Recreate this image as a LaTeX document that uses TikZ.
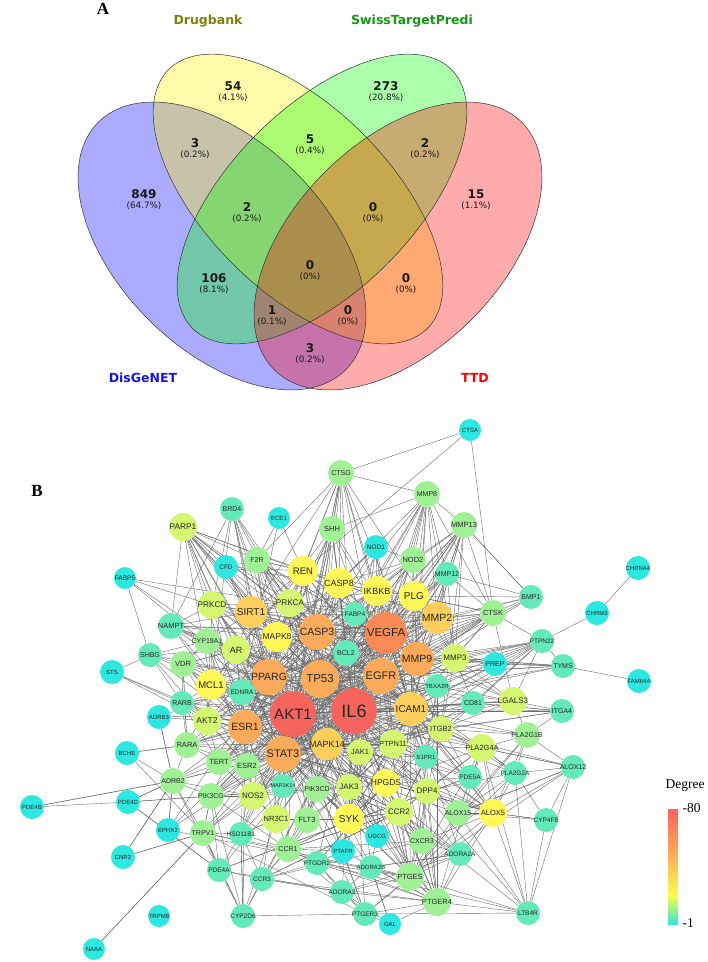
\documentclass[tikz,border=0pt]{standalone}
\usepackage{fontspec}
\setmainfont{Liberation Serif}
\setsansfont{Liberation Sans}
\newfontfamily\vennfont{DejaVu Sans}
\usetikzlibrary{backgrounds}
\newcommand{\fsz}[1]{\fontsize{#1}{#1}\selectfont}
\definecolor{dc1}{RGB}{44,232,224}
\definecolor{dc2}{RGB}{100,234,184}
\definecolor{dc3}{RGB}{160,241,150}
\definecolor{dc4}{RGB}{212,246,112}
\definecolor{dc5}{RGB}{255,246,88}
\definecolor{dc6}{RGB}{253,206,92}
\definecolor{dc7}{RGB}{251,170,90}
\definecolor{dc8}{RGB}{249,138,86}
\definecolor{dc9}{RGB}{246,100,94}
\definecolor{barlg}{RGB}{150,240,140}
\definecolor{baryel}{RGB}{250,250,80}
\definecolor{barora}{RGB}{250,170,90}
\definecolor{barred}{RGB}{248,100,95}
\tikzstyle{gene} = [circle, inner sep=0pt, draw=none]
\tikzstyle{link} = [draw=black!58, line width=0.4pt]
\tikzstyle{vnum} = [font=\vennfont\bfseries\fsz{12}, text=black!90]
\tikzstyle{vpct} = [font=\vennfont\fsz{8.8}, text=black!90]
\tikzstyle{vtitle} = [font=\vennfont\bfseries\fsz{12.5}]
\tikzstyle{panel} = [font=\bfseries\fsz{17}]

\begin{document}
\begin{tikzpicture}[x=1pt, y=-1pt]
  \useasboundingbox (0,0) rectangle (708,962);

  % panel A
  \node[panel] (labA) at (103,9) {A};
  \foreach \cx/\cy/\ra/\rb/\rot/\col in {222/246/175/104/45/blue, 298/199/183/92/45/yellow, 322/199/183/92/-45/green, 398/246/175/104/-45/red}
    \fill[fill=\col, fill opacity=0.33] plot[domain=0:358, samples=180, variable=\ang] ({\cx+\ra*cos(\ang)*cos(\rot)-\rb*sin(\ang)*sin(\rot)}, {\cy+\ra*cos(\ang)*sin(\rot)+\rb*sin(\ang)*cos(\rot)}) -- cycle;
  \foreach \cx/\cy/\ra/\rb/\rot in {222/246/175/104/45, 298/199/183/92/45, 322/199/183/92/-45, 398/246/175/104/-45}
    \draw[black!80, line width=0.5pt] plot[domain=0:358, samples=180, variable=\ang] ({\cx+\ra*cos(\ang)*cos(\rot)-\rb*sin(\ang)*sin(\rot)}, {\cy+\ra*cos(\ang)*sin(\rot)+\rb*sin(\ang)*cos(\rot)}) -- cycle;

  \node[vtitle, text={rgb,255:red,128;green,128;blue,10}] (tdrug) at (208,21) {Drugbank};
  \node[vtitle, text={rgb,255:red,20;green,150;blue,20}] (tswiss) at (412,21) {SwissTargetPredi};
  \node[vtitle, text={rgb,255:red,20;green,20;blue,235}] (tdis) at (143,378) {DisGeNET};
  \node[vtitle, text=red] (tttd) at (475,378) {TTD};

  \foreach \x/\y/\num/\pct [count=\i] in {233/86/54/4.1, 386/86/273/20.8, 195/143/3/0.2, 310/139/5/0.4, 425/143/2/0.2, 144/194/849/64.7, 476/194/15/1.1, 247/207/2/0.2, 373/207/0/0, 310/265/0/0, 214/278/106/8.1, 406/278/0/0, 272/310/1/0.1, 348/310/0/0, 310/348/3/0.2} {
    \node[vnum] (vnum\i) at (\x,\y) {\num};
    \node[vpct] (vpct\i) at (\x,\y+12) {(\pct\%)};
  }

  % panel B
  \node[panel] (labB) at (37,491) {B};
  \foreach \n/\x/\y/\rad/\fz/\dg in {
    CTSA/470/430/11/6/1, CTSG/341/473/13/7/3, MMP8/427/494/13/7/3, MMP13/464/525/13/7.5/3,
    BRD4/232/509/12/7/2, ECE1/279/518/11/6/1, PARP1/183/527/14/8.3/4, SHH/332/529/13/7.5/3,
    NOD1/376/547/12/6.5/1, NOD2/413/560/13/7.5/3, F2R/257/560/13/7/3, CFD/226/567/12/6.5/1,
    REN/303/571/15/9.5/5, MMP12/447/574/12/7/2, CHRNA4/638/568/12/6/1, FABP5/125/578/11/6.5/1,
    CASP8/339/583/15/9/5, IKBKB/377/591/15/9/5, PLG/414/596/15/10/5, BMP1/531/597/12/7/2,
    PRKCD/212/605/14/8.2/4, PRKCA/290/603/14/8.2/4, SIRT1/251/612/16/10/6, FABP4/355/614/12/6.5/2,
    CTSK/493/613/13/7.5/3, CHRM3/597/613/12/6/1, MMP2/437/618/16/10.5/6, NAMPT/171/626/13/7.5/2,
    CASP3/317/632/18/10.5/7, VEGFA/386/633/21/11.5/8, MAPK8/277/637/15/8.5/5, CYP19A1/207/641/13/7/3,
    PTPN22/542/641/12/6.5/2, AR/236/650/14/9/4, BCL2/346/653/13/7/2, SHBG/150/655/12/7/2,
    MMP9/417/659/17/10.5/7, MMP3/455/658/14/8/4, VDR/183/664/13/7.5/3, PREP/495/664/12/7/1,
    TYMS/563/666/12/7/2, STS/112/672/12/6/1, PPARG/269/677/18/10.5/7, TP53/320/679/19/11.5/7,
    EGFR/381/676/18/11/7, FAM64A/639/681/12/6/1, MCL1/211/685/15/9.5/5, TBXA2R/437/686/12/6/2,
    EDNRA/242/692/13/6.5/2, LGALS3/513/701/14/8/4, CD81/473/703/12/7/2, RARB/182/703/12/7/2,
    ICAM1/411/709/17/10/6, IL6/354/711/23/18/9, AKT1/293/714/23/15/9, ITGA4/562/711/12/7/2,
    ADRB3/159/717/12/6/1, AKT2/207/721/14/8.5/4, ESR1/245/727/17/10.5/7, ITGB2/441/729/13/7.5/4,
    PLA2G1B/527/735/13/7/3, MAPK14/327/744/16/9/6, PTPN11/393/744/14/7.5/4, RARA/187/745/13/7.5/3,
    PLA2G4A/482/748/14/7.5/4, JAK1/360/752/13/7.5/4, BCHE/127/753/12/6/1, STAT3/283/754/18/11/7,
    S1PR1/426/757/12/6/2, TERT/219/762/13/7.5/3, ESR2/247/766/13/7.5/3, ALOX12/573/767/12/7/2,
    PLA2G2A/515/773/12/6.5/2, PDE5A/470/777/12/6.5/2, ADRB2/173/781/13/7/3, HPGDS/386/783/14/8.5/5,
    MAP3K14/283/786/12/5.5/2, JAK3/349/787/13/8/4, PIK3CD/317/789/13/7/3, DPP4/427/791/13/8/4,
    NOS2/253/796/14/8/4, PIK3CG/211/796/13/7/3, PDE4D/128/802/12/6/1, PDE4B/32/807/12/6/1,
    CCR2/399/812/14/8/4, ALOX15/458/813/13/7/3, ALOX5/493/813/14/7.5/5, NR3C1/276/819/14/7.5/4,
    SYK/349/819/15/10/5, FLT3/307/820/13/7.5/3, CYP4F8/546/820/12/6.5/2, EPHX2/168/830/12/6/1,
    TRPV1/203/833/13/7/3, HSD11B1/241/834/12/6.5/2, UGCG/377/836/12/6/1, CXCR3/422/841/13/7/3,
    CCR1/288/849/13/7/3, PTAFR/343/851/12/6/1, ADORA2A/460/854/12/6.5/2, CNR2/123/857/12/6/1,
    PTGDR2/317/863/12/6.5/2, ADORA2B/371/867/12/6/2, PDE4A/219/870/12/6.5/2, PTGES/410/877/14/7.5/3,
    CCR3/262/879/12/6.5/2, ADORA3/342/892/12/6.5/2, PTGER4/437/902/14/7.5/3, LTB4R/528/913/12/6.5/2,
    PTGER3/365/914/12/6.5/2, CYP2D6/243/916/12/6.5/2, TRPM8/159/916/11/6/1, GAL/390/924/11/6/1,
    NAAA/94/949/11/6/1}
    \node[gene, fill=dc\dg, minimum size=2*\rad, label={[font=\sffamily\fsz{\fz}, text=black!85]center:\n}] (\n) at (\x,\y) {};

  \begin{pgfonlayer}{background}
    \def\hubgenes{IL6,AKT1,TP53,VEGFA,EGFR,CASP3,PPARG,STAT3,ESR1,MMP9,ICAM1,MAPK14,SIRT1,MMP2,MAPK8,CASP8}
    \foreach \a [count=\i] in \hubgenes {
      \foreach \b [count=\j] in \hubgenes {
        \ifnum\j>\i \draw[link] (\a) -- (\b); \fi
      }
    }
    \foreach \s/\tl in {
      CTSA/{CTSG,REN,CTSK},
      CTSG/{MMP8,IL6,AKT1,TP53,CASP3,VEGFA,EGFR,MMP9,MMP2,ICAM1,STAT3,CASP8,REN,SHH,PRKCA,F2R,SIRT1},
      MMP8/{MMP13,MMP12,PLG,MMP2,MMP9,VEGFA,IL6,TP53,CASP3,EGFR,CTSK,AKT1,ICAM1,MMP3,NOD2,IKBKB,SHH,CASP8},
      MMP13/{MMP12,MMP2,MMP9,VEGFA,IL6,PLG,MMP3,CTSK,BMP1,EGFR,AKT1,TP53,ICAM1,NOD2,STAT3,CASP3,ITGB2},
      BRD4/{SIRT1,MAPK8,AKT1,IL6,PPARG,CASP3,STAT3,TP53,MCL1,PRKCD,NAMPT},
      ECE1/{EDNRA,REN,F2R},
      PARP1/{SIRT1,PPARG,AKT1,TP53,CASP3,IL6,CASP8,STAT3,PRKCD,NAMPT,MAPK8,ESR1,PRKCA,F2R,MCL1,AR,CFD,REN,BCL2},
      SHH/{IL6,AKT1,TP53,CASP3,VEGFA,EGFR,STAT3,CASP8,MAPK8,PPARG,ESR1,MMP9,MCL1,BCL2},
      NOD1/{NOD2,IL6,IKBKB,CASP8,MAPK14,CASP3,MAPK8,ICAM1,VEGFA},
      NOD2/{IL6,IKBKB,CASP8,MAPK14,STAT3,TP53,AKT1,MMP9,CASP3,ICAM1,MAPK8},
      F2R/{IL6,AKT1,PLG,VEGFA,EGFR,ICAM1,MAPK14,PRKCA,CASP3,STAT3,TP53,PPARG,MMP9,REN,CFD},
      CFD/{IL6,ICAM1,AKT1,PPARG,REN,PLG,SIRT1},
      REN/{IL6,AKT1,TP53,CASP3,VEGFA,EGFR,PPARG,STAT3,ESR1,ICAM1,SIRT1,MAPK14,MMP9,EDNRA,MMP2,AR},
      MMP12/{MMP2,MMP9,MMP3,IL6,VEGFA,PLG,CTSK,TP53,EGFR,AKT1,ICAM1,BMP1,STAT3},
      CHRNA4/{CHRM3},
      FABP5/{PRKCD,SHBG,PPARG,AKT1,FABP4},
      IKBKB/{IL6,AKT1,TP53,CASP3,VEGFA,EGFR,STAT3,ESR1,ICAM1,MAPK14,MAPK8,MMP9,PLG,CASP8,BCL2,SIRT1,JAK1,PTPN11,SYK},
      PLG/{IL6,AKT1,TP53,CASP3,VEGFA,EGFR,MMP9,MMP2,MMP3,ICAM1,STAT3,BMP1,CTSK,ITGB2,MAPK14,PPARG},
      BMP1/{CTSK,MMP2,VEGFA,MMP9,MMP13,IL6},
      PRKCD/{IL6,AKT1,TP53,CASP3,PPARG,STAT3,ESR1,MAPK8,SIRT1,PRKCA,MAPK14,EGFR,VEGFA,MCL1,NAMPT,AKT2},
      PRKCA/{IL6,AKT1,TP53,CASP3,VEGFA,EGFR,STAT3,ESR1,MAPK14,MAPK8,ICAM1,MMP9,MMP2,SIRT1,PPARG,BCL2},
      FABP4/{IL6,PPARG,AKT1,VEGFA,EGFR,TP53,ICAM1,STAT3,CASP3},
      CTSK/{MMP2,MMP9,MMP3,VEGFA,IL6,PLG,TP53,EGFR,PTPN22,ICAM1,STAT3,AKT1,CASP3,LGALS3,ESR1,PPARG},
      CHRM3/{PTPN22},
      NAMPT/{SIRT1,IL6,AKT1,PPARG,TP53,STAT3,CASP3,MAPK8,ESR1,VEGFA,ICAM1,CYP19A1},
      CYP19A1/{ESR1,AR,PPARG,AKT1,IL6,TP53,VDR,ESR2,EGFR,SIRT1,STAT3},
      PTPN22/{IL6,ICAM1,STAT3,LGALS3,CD81,MMP3,TYMS,EGFR,MMP9,JAK1,AKT1,TP53,PTPN11,SYK},
      AR/{ESR1,AKT1,TP53,PPARG,STAT3,IL6,EGFR,VEGFA,MAPK14,ESR2,VDR,CASP3,SIRT1,MCL1,CYP19A1,RARA},
      BCL2/{IL6,AKT1,TP53,CASP3,VEGFA,EGFR,STAT3,ESR1,MAPK14,MCL1,MAPK8,PPARG,ICAM1,MMP9,CASP8},
      SHBG/{STS,ESR1,AR,VDR,RARB,CYP19A1,ESR2,AKT1,PPARG},
      MMP3/{IL6,VEGFA,MMP9,MMP2,TP53,EGFR,ICAM1,STAT3,AKT1,ITGB2,TYMS,PREP,LGALS3,CD81},
      VDR/{ESR1,AR,PPARG,IL6,AKT1,TP53,RARB,RARA,MCL1,ESR2,STAT3,CYP19A1},
      PREP/{MMP9,TYMS,IL6,EGFR,MMP3,VEGFA,ICAM1},
      TYMS/{FAM64A,MMP9,EGFR,TP53,IL6,MMP3,AKT1,PREP},
      STS/{RARB,AKT2,ESR1},
      MCL1/{IL6,AKT1,TP53,CASP3,STAT3,ESR1,MAPK8,MAPK14,PPARG,EGFR,AKT2,JAK1},
      TBXA2R/{IL6,ICAM1,EGFR,VEGFA,MMP9,AKT1,TP53,PTGES,PTGER4,HPGDS,S1PR1,MAPK14},
      EDNRA/{IL6,AKT1,ESR1,VEGFA,EGFR,TP53,PPARG,STAT3,MAPK14,ICAM1},
      LGALS3/{IL6,ICAM1,ITGB2,AKT1,EGFR,VEGFA,MMP9,STAT3,TP53,ITGA4,CD81,PLA2G1B},
      CD81/{IL6,ICAM1,ITGB2,EGFR,AKT1,STAT3,ITGA4,PTPN11},
      RARB/{RARA,ESR1,AKT1,PPARG,TP53,STAT3,IL6,EGFR,AKT2,MCL1,TERT},
      ITGA4/{ICAM1,ITGB2,PLA2G1B,IL6,CD81,STAT3},
      ADRB3/{ADRB2,AKT2,PPARG,AKT1},
      AKT2/{AKT1,IL6,TP53,ESR1,STAT3,PPARG,EGFR,MAPK14,CASP3,VEGFA,MAPK8,ESR2,TERT},
      ITGB2/{IL6,ICAM1,STAT3,SYK,JAK1,PTPN11,AKT1,MAPK14,VEGFA,MMP9,PLA2G1B,DPP4,CCR2},
      PLA2G1B/{PLA2G4A,PLA2G2A,ALOX5,ALOX12,ALOX15,IL6,PTGES,ICAM1},
      PTPN11/{IL6,AKT1,STAT3,JAK1,JAK3,SYK,EGFR,ICAM1,MAPK14,TP53,ESR1,VEGFA},
      RARA/{ESR1,AKT1,TP53,PPARG,STAT3,IL6,ESR2,TERT,BCHE,ADRB2,VDR,EGFR,MAPK14},
      PLA2G4A/{IL6,ICAM1,ALOX5,ALOX15,ALOX12,PTGES,PTGER4,LTB4R,PLA2G2A,MAPK14,AKT1,EGFR,TP53,HPGDS,CCR2,DPP4},
      JAK1/{IL6,STAT3,AKT1,JAK3,SYK,PTPN11,ICAM1,EGFR,MAPK14,TP53,VEGFA,ESR1},
      BCHE/{RARA,ADRB2,TRPV1},
      S1PR1/{IL6,AKT1,STAT3,ICAM1,VEGFA,MAPK14,EGFR,PTGER4,CCR2,CXCR3},
      TERT/{AKT1,TP53,IL6,STAT3,ESR1,ESR2,MAPK14,EGFR,VEGFA,CASP3,NOS2},
      ESR2/{ESR1,AKT1,TP53,IL6,STAT3,PPARG,EGFR,VEGFA,MAPK14,NOS2,MAP3K14,PIK3CG},
      ALOX12/{ALOX5,ALOX15,CYP4F8,LTB4R,PLA2G4A,PTGES,PLA2G2A,IL6},
      PLA2G2A/{ALOX5,ALOX15,PLA2G4A,IL6,PTGES,ICAM1,CYP4F8,LTB4R,DPP4},
      PDE5A/{IL6,AKT1,ICAM1,VEGFA,ALOX5,PDE4A,EGFR,NOS2,MAPK14},
      ADRB2/{AKT1,IL6,STAT3,ESR1,PIK3CG,PDE4D,PDE4B,CNR2,MAPK14,EPHX2,TRPV1,NOS2,ADRB3},
      HPGDS/{IL6,AKT1,STAT3,PTGES,PTGER4,PTGDR2,MAPK14,TP53,CCR2,ICAM1,ALOX5},
      MAP3K14/{IL6,AKT1,STAT3,MAPK14,NOS2,TP53,IKBKB},
      JAK3/{IL6,STAT3,JAK1,SYK,AKT1,FLT3,PTPN11,MAPK14,ICAM1,CCR2},
      PIK3CD/{AKT1,IL6,STAT3,SYK,FLT3,PIK3CG,MAPK14,JAK3,TP53,EGFR,CCR2},
      DPP4/{IL6,ICAM1,CCR2,CXCR3,STAT3,AKT1,PTGES,ALOX5,PTGER4},
      NOS2/{IL6,AKT1,STAT3,TP53,MAPK14,ESR1,VEGFA,EGFR,ICAM1,PPARG,NR3C1,PIK3CG,HSD11B1},
      PIK3CG/{AKT1,IL6,STAT3,PIK3CD,MAPK14,ESR1,TRPV1,PDE4D,PDE4A,CCR1,EGFR,TP53},
      PDE4D/{PDE4B,PIK3CG,ADRB2,PDE4A},
      PDE4B/{ADRB2},
      CCR2/{IL6,STAT3,ICAM1,CCR1,CCR3,CXCR3,SYK,AKT1,MAPK14,JAK3,PTGER4,PTGES,LTB4R},
      ALOX15/{ALOX5,ALOX12,PTGES,IL6,ICAM1,LTB4R,CYP4F8,PLA2G4A,STAT3,PPARG},
      ALOX5/{IL6,CYP4F8,LTB4R,PTGES,PTGER4,ICAM1,AKT1,MAPK14,CXCR3,ADORA2A,TP53,EGFR,STAT3,HPGDS},
      NR3C1/{IL6,AKT1,STAT3,ESR1,TP53,PPARG,MAPK14,HSD11B1,NOS2,CCR1,SYK},
      SYK/{IL6,AKT1,STAT3,JAK1,JAK3,FLT3,PTAFR,CCR1,MAPK14,ICAM1,TP53,EGFR,PIK3CD,CCR2},
      FLT3/{AKT1,STAT3,IL6,SYK,JAK3,PIK3CD,MAPK14,CCR1,TP53},
      CYP4F8/{ALOX5,LTB4R},
      EPHX2/{PPARG,AKT1,PTGES,ADRB2,IL6},
      TRPV1/{NAAA,CNR2,AKT1,IL6,STAT3,MAPK14,PIK3CG,HSD11B1,PDE4A,CCR1,PTGER3,PTGES,CYP2D6},
      HSD11B1/{NR3C1,PPARG,AKT1,IL6,ESR1,PDE4A,CYP2D6,CCR1,STAT3},
      UGCG/{IL6,AKT1,TP53,EGFR,STAT3,CCR2},
      CXCR3/{IL6,CCR2,CCR1,CCR3,ICAM1,STAT3,PTGER4,AKT1,ADORA2A,PTGES},
      CCR1/{IL6,STAT3,CCR3,CCR2,SYK,AKT1,ADORA3,PTGDR2,PTGER4,ICAM1,MAPK14,PTAFR},
      PTAFR/{IL6,SYK,PTGER4,PTGER3,AKT1,MAPK14,STAT3,ICAM1,PTGDR2},
      ADORA2A/{IL6,ADORA2B,ADORA3,PTGER4,PTGES,ICAM1,STAT3,AKT1,CCR2},
      CNR2/{TRPV1,ADRB2},
      PTGDR2/{PTGES,PTGER4,PTGER3,HPGDS,IL6,CCR3,CCR1,ADORA3,LTB4R},
      ADORA2B/{ADORA3,PTGER4,PTGES,IL6,ADORA2A,GAL,STAT3,AKT1,HPGDS},
      PDE4A/{PDE4D,PDE5A,ADORA3,CYP2D6,ADRB2,IL6,CCR3},
      PTGES/{IL6,PTGER4,PTGER3,HPGDS,AKT1,STAT3,ICAM1,MAPK14,LTB4R,EGFR,TP53},
      CCR3/{CCR2,CCR1,IL6,PTGER4,STAT3,CYP2D6,HSD11B1},
      ADORA3/{PTGER3,PTGER4,PTGES,IL6,CCR3,GAL},
      PTGER4/{IL6,PTGER3,LTB4R,AKT1,STAT3,ICAM1,MAPK14,EGFR},
      LTB4R/{PTGER3,IL6},
      PTGER3/{IL6,GAL,PTGES,AKT1,STAT3,CYP2D6},
      CYP2D6/{NR3C1,PIK3CG,ESR1,HSD11B1,IL6,TRPV1},
      GAL/{PTGER4,ADORA2B},
      NAAA/{TRPV1}} {
      \foreach \t in \tl { \draw[link] (\s) -- (\t); }
    }
  \end{pgfonlayer}

  % degree legend
  \node[font=\fsz{13.5}] (degtitle) at (685,786) {Degree};
  \shade[bottom color=dc1, top color=barlg] (668,924) rectangle (678,910);
  \shade[bottom color=barlg, top color=baryel] (668,910.4) rectangle (678,895);
  \shade[bottom color=baryel, top color=barora] (668,895.4) rectangle (678,852);
  \shade[bottom color=barora, top color=barred] (668,852.4) rectangle (678,809);
  \node[font=\fsz{13.5}, anchor=west] (degmax) at (679,808) {-80};
  \node[font=\fsz{13.5}, anchor=west] (degmin) at (679,923) {-1};
\end{tikzpicture}
\end{document}
